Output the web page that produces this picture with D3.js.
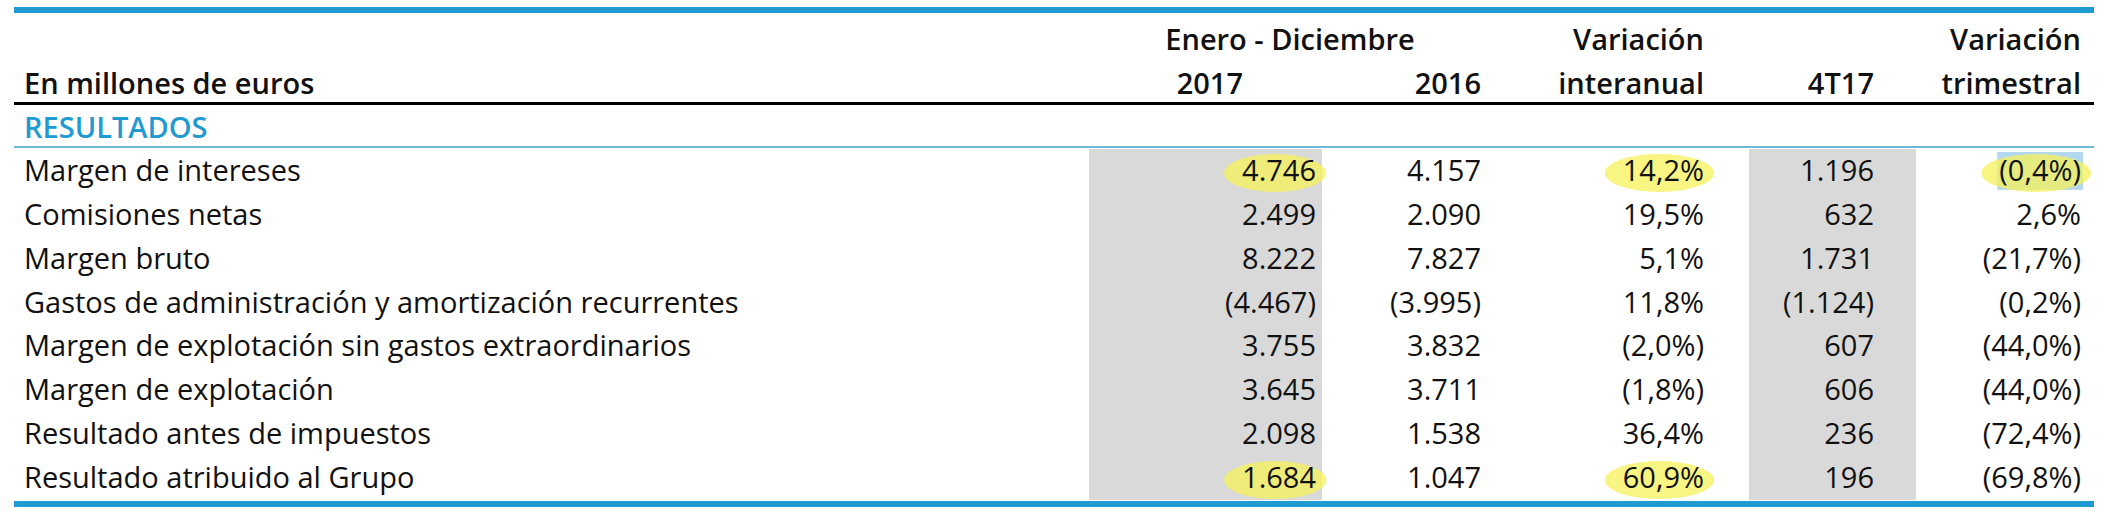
<!DOCTYPE html>
<html><head><meta charset="utf-8">
<script src="https://cdn.jsdelivr.net/npm/d3@7"></script>
<style>body{margin:0;background:#fff}text{font-family:"Open Sans",sans-serif}</style>
</head><body>
<svg width="2126" height="526"></svg>
<script>
let rowLabels = ["Margen de intereses", "Comisiones netas", "Margen bruto",
  "Gastos de administración y amortización recurrentes",
  "Margen de explotación sin gastos extraordinarios", "Margen de explotación",
  "Resultado antes de impuestos", "Resultado atribuido al Grupo"];
let y2017 = ["4.746", "2.499", "8.222", "(4.467)", "3.755", "3.645", "2.098", "1.684"];
let y2016 = ["4.157", "2.090", "7.827", "(3.995)", "3.832", "3.711", "1.538", "1.047"];
let varAnual = ["14,2%", "19,5%", "5,1%", "11,8%", "(2,0%)", "(1,8%)", "36,4%", "60,9%"];
let q4 = ["1.196", "632", "1.731", "(1.124)", "607", "606", "236", "196"];
let varTrim = ["(0,4%)", "2,6%", "(21,7%)", "(0,2%)", "(44,0%)", "(44,0%)", "(72,4%)", "(69,8%)"];
let highlights = [[0, 0], [0, 2], [0, 4], [7, 0], [7, 2]]; // [row, column]

var svg = d3.select("svg");
let fs = 29;
let cols = [
  { vals: y2017, right: 1316, shade: [1089, 1322] },
  { vals: y2016, right: 1481 },
  { vals: varAnual, right: 1704 },
  { vals: q4, right: 1874, shade: [1749, 1916] },
  { vals: varTrim, right: 2081 }
];
let y = d3.scaleBand().domain(d3.range(rowLabels.length)).range([149, 500]);

let shadeG = svg.append("g"), markG = svg.append("g"), textG = svg.append("g");

cols.filter(c => c.shade).forEach(c => {
  shadeG.append("rect").attr("x", c.shade[0]).attr("y", y(0))
    .attr("width", c.shade[1] - c.shade[0]).attr("height", y.range()[1] - y(0))
    .attr("fill", "#d9d9d9");
});

// lines
svg.append("rect").attr("x", 14).attr("y", 7).attr("width", 2080).attr("height", 6).attr("fill", "#1f9bd2");
svg.append("rect").attr("x", 14).attr("y", 102).attr("width", 2080).attr("height", 3).attr("fill", "#000");
svg.append("rect").attr("x", 14).attr("y", 146).attr("width", 2080).attr("height", 2).attr("fill", "#6db8dc");
svg.append("rect").attr("x", 14).attr("y", 501).attr("width", 2080).attr("height", 6).attr("fill", "#1f9bd2");

// headers
let hdr = (t, x, yy, anchor) => textG.append("text").text(t).attr("x", x).attr("y", yy)
  .attr("text-anchor", anchor).attr("font-size", fs).attr("font-weight", 600).attr("fill", "#111");
hdr("En millones de euros", 24, 94, "start");
hdr("Enero - Diciembre", 1290, 50, "middle");
hdr("2017", 1243, 94, "end");
hdr("2016", 1481, 94, "end");
hdr("Variación", 1704, 50, "end");
hdr("interanual", 1704, 94, "end");
hdr("4T17", 1874, 94, "end");
hdr("Variación", 2081, 50, "end");
hdr("trimestral", 2081, 94, "end");
textG.append("text").text("RESULTADOS").attr("x", 24).attr("y", 138).attr("font-size", fs)
  .attr("font-weight", 600).attr("fill", "#1f9bd2");

// body
let cells = {};
rowLabels.forEach((l, i) => {
  let by = y(i) + y.bandwidth() / 2 + 10;
  textG.append("text").text(l).attr("x", 24).attr("y", by).attr("font-size", fs).attr("fill", "#111");
  cols.forEach((c, j) => {
    cells[i + "_" + j] = textG.append("text").text(c.vals[i]).attr("x", c.right).attr("y", by)
      .attr("text-anchor", "end").attr("font-size", fs).attr("fill", "#111");
  });
});

// light blue selection behind (0,4%)
let sel = cells["0_4"].node().getBBox();
shadeG.append("rect").attr("x", sel.x - 2).attr("y", y(0) + 3).attr("width", sel.width + 4)
  .attr("height", y.bandwidth() - 6).attr("fill", "#b4d7f0");

// highlighter marks
highlights.forEach(([r, c]) => {
  let b = cells[r + "_" + c].node().getBBox();
  markG.append("ellipse").attr("cx", b.x + b.width / 2 - 4).attr("cy", y(r) + y.bandwidth() / 2 + 2)
    .attr("rx", b.width / 2 + 14).attr("ry", 19).attr("fill", "#f5f25a").attr("opacity", 0.75);
});
</script>
</body></html>
